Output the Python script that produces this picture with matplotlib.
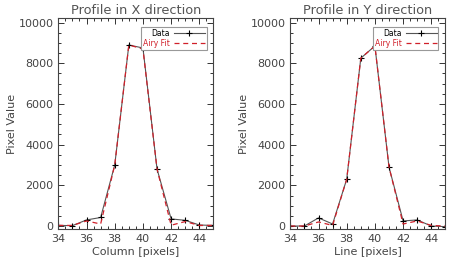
import matplotlib
matplotlib.use("Agg")
import matplotlib.pyplot as plt
from matplotlib.ticker import MultipleLocator

pix = [34, 35, 36, 37, 38, 39, 40, 41, 42, 43, 44, 45]
data_x = [30, 20, 300, 420, 3000, 8900, 8750, 2800, 350, 280, 50, 30]
fit_x = [30, 30, 250, 100, 3000, 8900, 8700, 2800, 40, 220, 30, 30]
data_y = [0, 0, 400, 100, 2300, 8250, 8850, 2900, 250, 300, 0, -30]
fit_y = [0, 0, 200, 30, 2300, 8250, 8850, 2900, 100, 250, 30, 0]

panels = [
    ("Profile in X direction", "Column [pixels]", data_x, fit_x),
    ("Profile in Y direction", "Line [pixels]", data_y, fit_y),
]

txt = "#444444"
fig = plt.figure(figsize=(4.63, 2.67), dpi=100)
lefts = [0.126, 0.627]
for left, (title, xlabel, d, f) in zip(lefts, panels):
    ax = fig.add_axes([left, 0.142, 0.335, 0.791])
    ld, = ax.plot(pix, d, color="#555555", lw=0.8, marker="+", ms=5,
                  mec="black", mew=0.8, label="Data")
    lf, = ax.plot(pix, f, color="#d0202a", lw=0.9, ls=(0, (4, 3)), label="Airy Fit")
    ax.set_xlim(34, 45)
    ax.set_ylim(-150, 10230)
    ax.xaxis.set_major_locator(MultipleLocator(2))
    ax.xaxis.set_minor_locator(MultipleLocator(0.5))
    ax.yaxis.set_major_locator(MultipleLocator(2000))
    ax.yaxis.set_minor_locator(MultipleLocator(500))
    ax.tick_params(which="both", direction="in", top=True, right=True,
                   colors="#333333", labelcolor=txt, labelsize=8, width=0.7)
    ax.tick_params(which="major", length=4)
    ax.tick_params(which="minor", length=2)
    for s in ax.spines.values():
        s.set_color("#444444")
        s.set_linewidth(0.8)
    ax.set_title(title, fontsize=9.3, color="#555555", pad=3)
    ax.set_xlabel(xlabel, fontsize=8, color=txt, labelpad=2)
    ax.set_ylabel("Pixel Value", fontsize=8, color=txt, labelpad=1)
    leg = ax.legend(handles=[ld, lf], loc="upper right", markerfirst=False,
                    fontsize=5.5, frameon=True, fancybox=False,
                    edgecolor="#999999", framealpha=1, handlelength=4.0,
                    borderpad=0.25, labelspacing=0.15, handletextpad=0.6,
                    bbox_to_anchor=(0.98, 0.975))
    leg.get_frame().set_linewidth(0.8)
    texts = leg.get_texts()
    texts[0].set_color("black")
    texts[1].set_color("#d0202a")

fig.savefig("out.png", dpi=100)
